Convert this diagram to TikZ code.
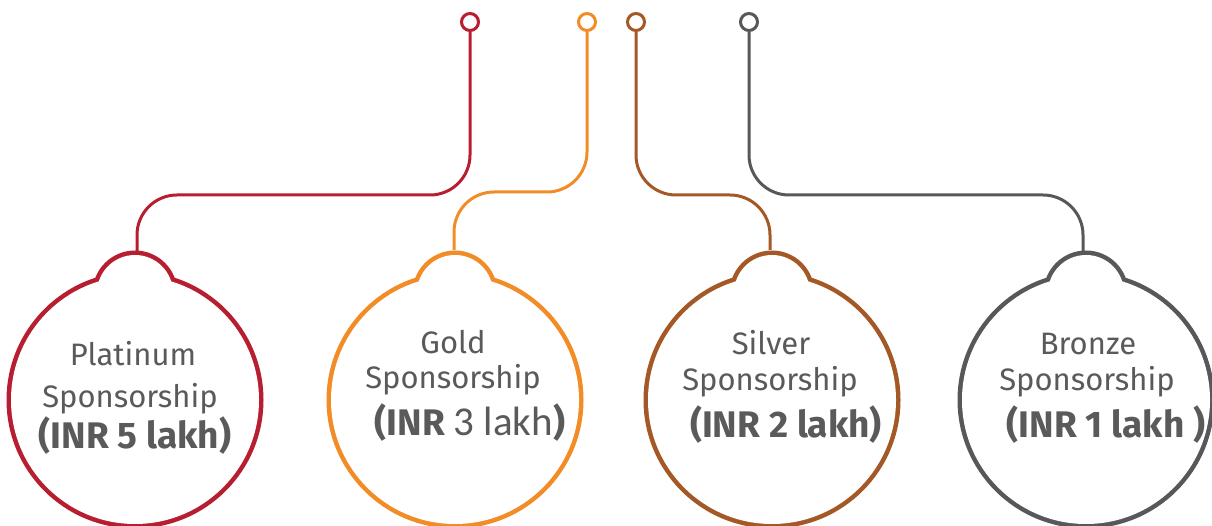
\documentclass[tikz,border=0pt]{standalone}
\usepackage{fontspec}
\setmainfont{Fira Sans}
\newfontfamily\carl{Carlito}
\definecolor{cplat}{RGB}{183,30,48}
\definecolor{cgold}{RGB}{242,140,38}
\definecolor{csilv}{RGB}{163,88,38}
\definecolor{cbron}{RGB}{88,88,90}
\definecolor{txt}{RGB}{90,90,90}
\newcommand\mymedal[2]{%
  \draw[#2, line width=9pt] (#1,400) circle[radius=124] (#1,293) circle[radius=38];
  \fill[white] (#1,400) circle[radius=124] (#1,293) circle[radius=38];
}
\begin{document}
\begin{tikzpicture}[x=1pt,y=-1pt,
  pinnode/.style={circle,draw=#1,line width=3pt,minimum size=17pt,inner sep=0pt,fill=white},
  conn/.style={draw=#1,line width=3pt,rounded corners=40pt},
  lab/.style={text=txt,font=\fontsize{31}{36}\selectfont,anchor=base},
  big/.style={text=txt,font=\fontsize{37}{42}\selectfont\bfseries,anchor=base}]
\useasboundingbox (0,0) rectangle (1212,526);
\clip (0,0) rectangle (1212,526);

\mymedal{135}{cplat}
\mymedal{455}{cgold}
\mymedal{772}{csilv}
\mymedal{1086}{cbron}

\coordinate (h1) at (0,195);
\coordinate (h2) at (0,192);
\coordinate (e1) at (137,252);
\coordinate (e2) at (454,250);
\coordinate (e3) at (770,250);
\coordinate (e4) at (1083,252);

\node[pinnode=cplat] (p1) at (470,22) {};
\node[pinnode=cgold] (p2) at (587,22) {};
\node[pinnode=csilv] (p3) at (636,22) {};
\node[pinnode=cbron] (p4) at (749,22) {};

\draw[conn=cplat] (p1.south) -- (p1.south |- h1) -- (e1 |- h1) -- (e1);
\draw[conn=cgold] (p2.south) -- (p2.south |- h2) -- (e2 |- h2) -- (e2);
\draw[conn=csilv] (p3.south) -- (p3.south |- h1) -- (e3 |- h1) -- (e3);
\draw[conn=cbron] (p4.south) -- (p4.south |- h1) -- (e4 |- h1) -- (e4);

\node[lab] (t1a) at (133,365) {Platinum};
\node[lab] (t1b) at (130,407) {Sponsorship};
\node[big] (t1c) at (135,448) {(INR 5 lakh)};

\node[lab] (t2a) at (453,353) {Gold};
\node[lab] (t2b) at (453,388) {Sponsorship};
\node[big] (t2c) at (470,435) {(INR {\carl\mdseries\fontsize{41}{46}\selectfont 3 lakh})};

\node[lab] (t3a) at (771,355) {Silver};
\node[lab] (t3b) at (770,390) {Sponsorship};
\node[big] (t3c) at (786,437) {(INR 2 lakh)};

\node[lab] (t4a) at (1088,355) {Bronze};
\node[lab] (t4b) at (1087,390) {Sponsorship};
\node[big] (t4c) at (1106,437) {(INR 1 lakh )};
\end{tikzpicture}
\end{document}
